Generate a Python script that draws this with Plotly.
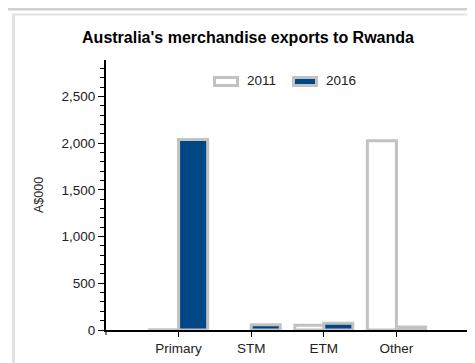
import plotly.graph_objects as go

categories = ["Primary", "STM", "ETM", "Other"]
exports_2011 = [3, None, 50, 2025]
exports_2016 = [2040, 55, 72, 32]
series_names = ["2011", "2016"]
y_tick_values = [0, 500, 1000, 1500, 2000, 2500]

OFF = 8  # page body margin
W, H = 475 - OFF, 363 - OFF
L, R, T, B = 106 - OFF, 6, 60 - OFF, 33
PW, PH = W - L - R, H - T - B


def px(x):  # reference-window pixel -> paper
    return (x - OFF - L) / PW


def py(y):
    return (H - B - (y - OFF)) / PH


BLUE = "#004785"
GRAY = "#c2c2c2"
FONT = "Liberation Sans, Arial, sans-serif"

fig = go.Figure()
fig.add_trace(go.Bar(name=series_names[0], x=categories, y=exports_2011,
                     marker=dict(color="white", line=dict(color=GRAY, width=3))))
fig.add_trace(go.Bar(name=series_names[1], x=categories, y=exports_2016,
                     marker=dict(color=BLUE, line=dict(color=GRAY, width=3))))

shapes = []
# outer frame lines
shapes.append(dict(type="line", xref="paper", yref="paper", x0=px(0), x1=px(480), y0=py(9), y1=py(9),
                   line=dict(color="#d0d0d0", width=3), layer="below"))
shapes.append(dict(type="line", xref="paper", yref="paper", x0=px(12), x1=px(480), y0=py(14.5), y1=py(14.5),
                   line=dict(color="#e2e2e2", width=2), layer="below"))
shapes.append(dict(type="line", xref="paper", yref="paper", x0=px(13.5), x1=px(13.5), y0=py(14), y1=py(370),
                   line=dict(color="#e2e2e2", width=3), layer="below"))
# x-axis end ticks
for xe in (106, 469):
    shapes.append(dict(type="line", xref="paper", yref="paper", x0=px(xe), x1=px(xe),
                       y0=py(330), y1=py(335), line=dict(color="black", width=1)))
# custom legend swatches
legend_items = [(series_names[0], "white", 214.5), (series_names[1], BLUE, 293.5)]
annotations = []
for name, fill, x0 in legend_items:
    shapes.append(dict(type="rect", xref="paper", yref="paper", x0=px(x0), x1=px(x0 + 23),
                       y0=py(77.5), y1=py(85.5), fillcolor=fill, line=dict(color=GRAY, width=3)))
    annotations.append(dict(text=name, xref="paper", yref="paper", x=px(x0 + 30.5), y=py(80.5),
                            xanchor="left", yanchor="middle", showarrow=False,
                            font=dict(family=FONT, size=13.5, color="#222")))

annotations.append(dict(text="A$000", xref="paper", yref="paper", x=px(39), y=0.5, textangle=-90,
                        xanchor="center", yanchor="middle", showarrow=False,
                        font=dict(family=FONT, size=12.5, color="#222")))

fig.update_layout(
    width=W, height=H,
    margin=dict(l=L, r=R, t=T, b=B, pad=0),
    paper_bgcolor="white", plot_bgcolor="white",
    barmode="group", bargap=0.2, bargroupgap=0,
    showlegend=False,
    title=dict(text="<b>Australia's merchandise exports to Rwanda</b>", x=(248 - OFF) / W, xanchor="center",
               y=1 - (37 - OFF) / H, yanchor="middle", font=dict(family=FONT, size=16, color="black")),
    shapes=shapes, annotations=annotations,
)
fig.update_xaxes(type="category", range=[-1, 4], showline=True, linecolor="black", linewidth=2,
                 ticks="outside", ticklen=5, tickcolor="black", tickwidth=1, showgrid=False,
                 zeroline=False, tickfont=dict(family=FONT, size=13.5, color="#222"))
fig.update_yaxes(range=[0, 2890], showline=True, linecolor="black", linewidth=2,
                 tickvals=y_tick_values, tickformat=",", ticks="outside", ticklen=6, tickcolor="black",
                 tickwidth=1, showgrid=False, zeroline=False,
                 minor=dict(dtick=100, ticks="outside", ticklen=4, tickcolor="black", tickwidth=1, showgrid=False),
                 tickfont=dict(family=FONT, size=13.5, color="#222"))

fig.write_html("out.html")
